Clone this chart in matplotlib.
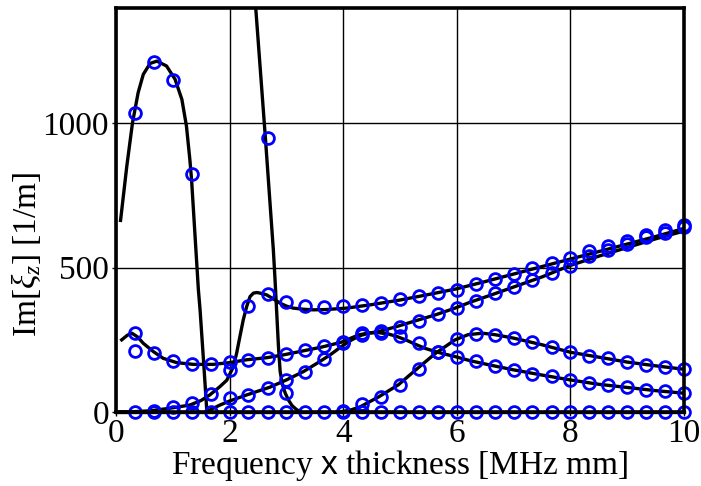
import matplotlib
matplotlib.use('Agg')
import matplotlib.pyplot as plt

plt.rcParams['font.family'] = ['Liberation Serif', 'DejaVu Serif']
plt.rcParams['mathtext.fontset'] = 'custom'
plt.rcParams['mathtext.rm'] = 'Liberation Serif'
plt.rcParams['mathtext.it'] = 'Liberation Serif:italic'
plt.rcParams['mathtext.sf'] = 'Liberation Sans'
plt.rcParams['font.size'] = 24

# sampled frequency-thickness grid (markers)
fd = [0.33, 0.67, 1.0, 1.33, 1.67, 2.0, 2.33, 2.67, 3.0, 3.33, 3.67, 4.0, 4.33, 4.67, 5.0,
      5.33, 5.67, 6.0, 6.33, 6.67, 7.0, 7.33, 7.67, 8.0, 8.33, 8.67, 9.0, 9.33, 9.67, 10.0]

# computed points, one list per mode
pts_zero = [0] * 30
pts_a_x = [0.33, 0.67, 1.0, 1.33]
pts_a = [1035, 1212, 1152, 825]
pts_b_x = [2.67, 3.0]
pts_b = [950, 65]
pts_top = [3, 18, 30, 62, 146, 368, 410, 380, 366, 365, 366, 372, 377, 391, 403, 412, 424,
           444, 461, 479, 499, 516, 534, 557, 574, 592, 615, 632, 649]
pts_u = [273, 204, 177, 167, 166, 173, 181, 186, 201, 215, 227, 244, 273, 279, 262, 238, 209,
         192, 175, 160, 146, 132, 123, 111, 100, 92, 85, 76, 71, 65]
pts_extra_x = [0.33]
pts_extra = [213]
pts_r = [47, 59, 82, 111, 137, 183, 240, 268, 273, 296, 316, 340, 362, 385, 412, 432, 456,
         481, 505, 540, 560, 582, 605, 622, 640]
pts_s = [3, 28, 53, 95, 148, 207, 252, 271, 267, 256, 241, 225, 207, 194, 186, 173, 163, 157, 148]

# continuous solution curves
a_x = [0.08, 0.19, 0.29, 0.39, 0.48, 0.60, 0.72, 0.89, 1.04, 1.16, 1.24, 1.30, 1.33, 1.39,
       1.45, 1.48, 1.54, 1.60]
a_y = [664, 852, 1002, 1107, 1170, 1208, 1216, 1199, 1153, 1083, 991, 875, 806, 615,
       424, 354, 180, 0]
b_x = [2.40, 2.46, 2.63, 2.77, 2.80, 2.86, 2.89, 2.93, 2.98, 3.04, 3.10, 3.18, 3.26]
b_y = [1560, 1400, 950, 562, 458, 227, 140, 95, 65, 40, 22, 8, 0]
top_x = [0.0, 0.3, 0.6, 0.95, 1.3, 1.5, 1.65, 1.83, 1.95, 2.05, 2.12, 2.18, 2.24, 2.30, 2.36,
         2.42, 2.48, 2.56, 2.65, 2.77, 2.89, 3.0, 3.12, 3.3, 3.47, 3.7, 4.06, 4.5, 5.0, 5.5,
         6.0, 6.5, 7.0, 7.5, 8.0, 8.5, 9.0, 9.5, 10.0]
top_y = [0, 1, 4, 13, 24, 40, 59, 88, 110, 150, 200, 260, 319, 365, 400, 412, 414, 411, 406,
         392, 377, 367, 360, 356, 354, 355, 360, 372, 388, 407, 427, 452, 478, 504, 530, 556,
         582, 608, 636]
u_x = [0.10, 0.20, 0.28, 0.38, 0.48, 0.66, 0.83, 1.07, 1.36, 1.71, 2.0, 2.3, 2.65, 2.95,
       3.3, 3.6, 3.77, 3.97, 4.27, 4.45, 4.62, 4.8, 4.94, 5.1, 5.29, 5.45, 5.63, 5.8, 5.97,
       6.23, 6.6, 7.0, 7.5, 8.0, 8.5, 9.0, 9.5, 10.0]
u_y = [250, 266, 273, 260, 238, 209, 186, 171, 165, 165, 171, 181, 188, 198, 212, 224, 232,
       242, 267, 274, 275, 270, 262, 250, 233, 220, 209, 200, 192, 178, 162, 146, 128, 111,
       96, 85, 74, 65]
r_x = [1.58, 1.83, 2.0, 2.3, 2.71, 3.0, 3.3, 3.59, 3.77, 3.97, 4.15, 4.3, 4.45, 4.65, 4.94,
       5.29, 5.63, 5.97, 6.23, 6.67, 7.0, 7.5, 8.0, 8.5, 9.0, 9.5, 10.0]
r_y = [0, 24, 38, 59, 86, 111, 140, 175, 198, 227, 250, 265, 273, 280, 296, 317, 337, 360,
       380, 410, 433, 468, 508, 540, 570, 600, 627]
s_x = [3.9, 4.0, 4.15, 4.3, 4.63, 4.97, 5.29, 5.63, 5.97, 6.2, 6.45, 6.67, 7.0, 7.5, 8.0,
       8.5, 9.0, 9.5, 10.0]
s_y = [0, 2, 8, 18, 53, 94, 148, 204, 250, 268, 273, 268, 256, 233, 207, 190, 173, 160, 148]
zero_x = [0.0, 10.0]
zero_y = [0, 0]

fig = plt.figure(figsize=(7.01, 4.86), dpi=100)
ax = fig.add_axes([0.1655, 0.1523, 0.8102, 0.8312])

lw = 2.4
for cx, cy in [(a_x, a_y), (b_x, b_y), (top_x, top_y), (u_x, u_y), (r_x, r_y), (s_x, s_y)]:
    ax.plot(cx, cy, color='black', lw=lw, zorder=3)
ax.plot(zero_x, zero_y, color='black', lw=lw, zorder=3, clip_on=False)

mk = dict(ls='none', marker='o', ms=8.5, mfc='none', mec='#0000ff', mew=2.0, zorder=4, clip_on=False)
ax.plot(fd, pts_zero, **mk)
ax.plot(pts_a_x, pts_a, **mk)
ax.plot(pts_b_x, pts_b, **mk)
ax.plot(fd[1:], pts_top, **mk)
ax.plot(fd, pts_u, **mk)
ax.plot(pts_extra_x, pts_extra, **mk)
ax.plot(fd[5:], pts_r, **mk)
ax.plot(fd[11:], pts_s, **mk)

ax.set_xlim(0, 10)
ax.set_ylim(0, 1400)
ax.set_xticks([0, 2, 4, 6, 8, 10])
ax.set_yticks([0, 500, 1000])
ax.grid(True, color='black', lw=1.0)
ax.tick_params(direction='out', length=3, width=1, pad=2)
for sp in ax.spines.values():
    sp.set_linewidth(2.6)
    sp.set_zorder(5)

ax.set_xlabel('Frequency $\\mathsf{x}$ thickness [MHz mm]', labelpad=-1)
ax.set_ylabel('Im[$\\xi_z$] [1/m]')
ax.yaxis.set_label_coords(-0.128, 0.39)

fig.savefig('out.png', dpi=100)
